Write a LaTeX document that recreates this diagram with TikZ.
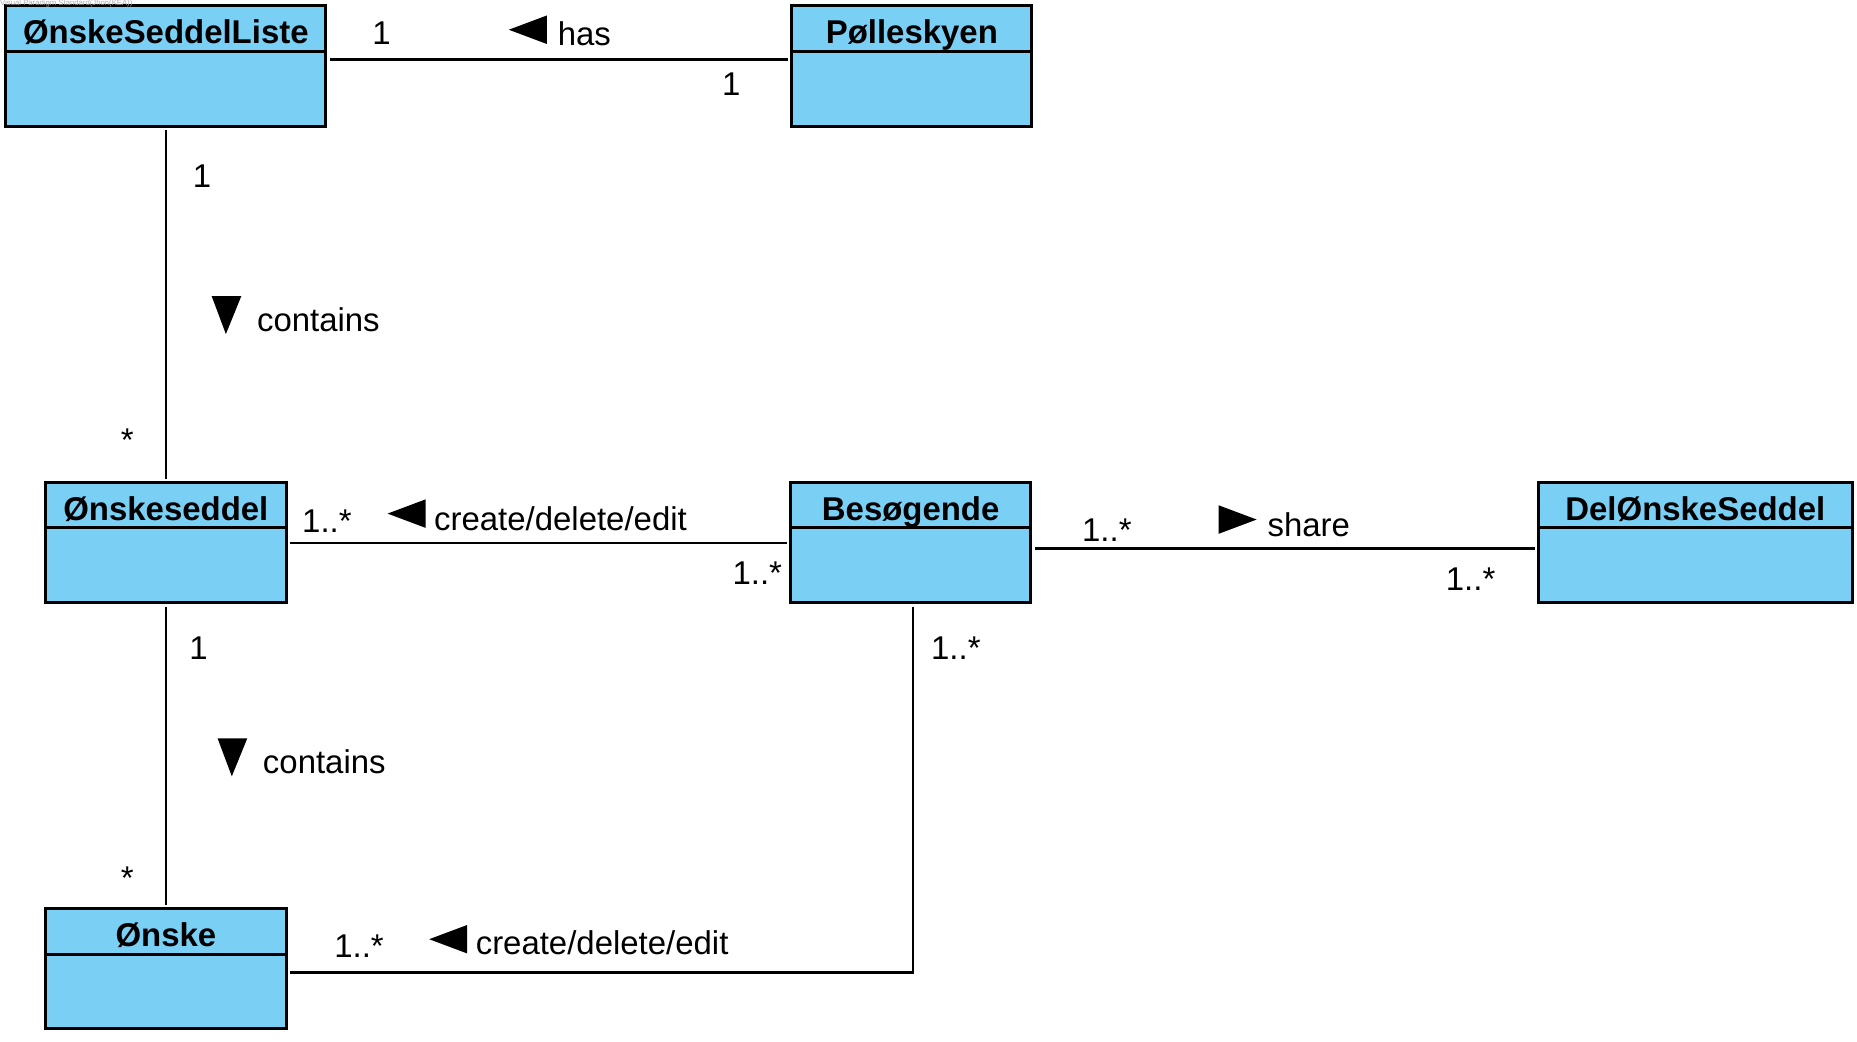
\documentclass[tikz,border=0pt]{standalone}
\usepackage{fontspec}
\setmainfont{Liberation Sans}
\usepackage{tikz}
\usetikzlibrary{calc}
\definecolor{vp_blue}{RGB}{122, 207, 245}
\definecolor{vp_grey}{RGB}{175, 175, 175}
\tikzstyle{cls}=[rectangle,fill=vp_blue,draw=black,
  line width=2.5pt,inner sep=0pt,minimum height=101pt]
\tikzstyle{hd}=[rectangle,fill=vp_blue,draw=black,anchor=north,
  line width=2.5pt,inner sep=0pt,minimum height=38pt,text height=25pt,text depth=0pt,
  font=\bfseries\fontsize{27.7}{33}\selectfont]
\tikzstyle{mult}=[inner sep=0pt,font=\fontsize{27.7}{33}\selectfont]
\tikzstyle{lbl}=[inner sep=0pt,anchor=west,font=\fontsize{27.7}{33}\selectfont]
\tikzstyle{assoc}=[line width=2pt,shorten <=2pt,shorten >=2pt]

\begin{document}
\begin{tikzpicture}[x=1pt, y=-1pt]
    \useasboundingbox (0,0) rectangle (1562,876);
    \node [style=cls, minimum width=269pt] (lst) at (139.5, 55.5) {};
    \node [style=hd, minimum width=269pt] (lsth) at (lst.north) {ØnskeSeddelListe};
    \node [style=cls, minimum width=202pt] (pol) at (767, 55.5) {};
    \node [style=hd, minimum width=202pt] (polh) at (pol.north) {Pølleskyen};
    \node [style=cls, minimum width=203pt] (sed) at (139.5, 456.5) {};
    \node [style=hd, minimum width=203pt] (sedh) at (sed.north) {Ønskeseddel};
    \node [style=cls, minimum width=202pt] (bes) at (766, 456.5) {};
    \node [style=hd, minimum width=202pt] (besh) at (bes.north) {Besøgende};
    \node [style=cls, minimum width=264pt] (del) at (1426, 456.5) {};
    \node [style=hd, minimum width=264pt] (delh) at (del.north) {DelØnskeSeddel};
    \node [style=cls, minimum width=203pt] (ons) at (139.5, 815) {};
    \node [style=hd, minimum width=203pt] (onsh) at (ons.north) {Ønske};

    \draw [style=assoc] ([yshift=5.5pt]lst.east) to ([yshift=5.5pt]pol.west);
    \draw [style=assoc] (lst.south) to (sed.north);
    \draw [style=assoc] (sed.east) to (bes.west);
    \draw [style=assoc] ([yshift=-5pt]bes.east) to ([yshift=-5pt]del.west);
    \draw [style=assoc] (sed.south) to (ons.north);
    \draw [style=assoc] ([xshift=2pt]bes.south) |- ([yshift=-3pt]ons.east);

    % multiplicities
    \node [style=mult] (m1) at (321, 28) {1};
    \node [style=mult] (m2) at (615, 71) {1};
    \node [style=mult] (m3) at (170, 148) {1};
    \node [style=mult] (m4) at (107, 370) {*};
    \node [style=mult] (m5) at (275, 438) {1..*};
    \node [style=mult] (m6) at (637, 482) {1..*};
    \node [style=mult] (m7) at (931, 446) {1..*};
    \node [style=mult] (m8) at (1237, 487) {1..*};
    \node [style=mult] (m9) at (167, 545) {1};
    \node [style=mult] (m10) at (107, 739) {*};
    \node [style=mult] (m11) at (804, 545) {1..*};
    \node [style=mult] (m12) at (302, 796) {1..*};

    % association names
    \fill (428, 25) -- (460, 13) -- (460, 37) -- cycle;
    \node [style=lbl] (has) at (469, 28) {has};
    \fill (190, 281) -- (178, 249) -- (203, 249) -- cycle;
    \node [style=lbl] (con1) at (216, 269) {contains};
    \fill (326, 432) -- (358, 420) -- (358, 444) -- cycle;
    \node [style=lbl] (cde1) at (365, 436) {create/delete/edit};
    \fill (1057, 437) -- (1025, 425) -- (1025, 449) -- cycle;
    \node [style=lbl] (shr) at (1066, 441) {share};
    \fill (195, 653) -- (183, 621) -- (208, 621) -- cycle;
    \node [style=lbl] (con2) at (221, 641) {contains};
    \fill (361, 790) -- (393, 778) -- (393, 802) -- cycle;
    \node [style=lbl] (cde2) at (400, 793) {create/delete/edit};

    \node [inner sep=0pt, anchor=north west, text=vp_grey, font=\fontsize{6.5}{7}\selectfont] (wm) at (0, 0) {Visual Paradigm Standard(Jhon(KEA))};
\end{tikzpicture}
\end{document}
